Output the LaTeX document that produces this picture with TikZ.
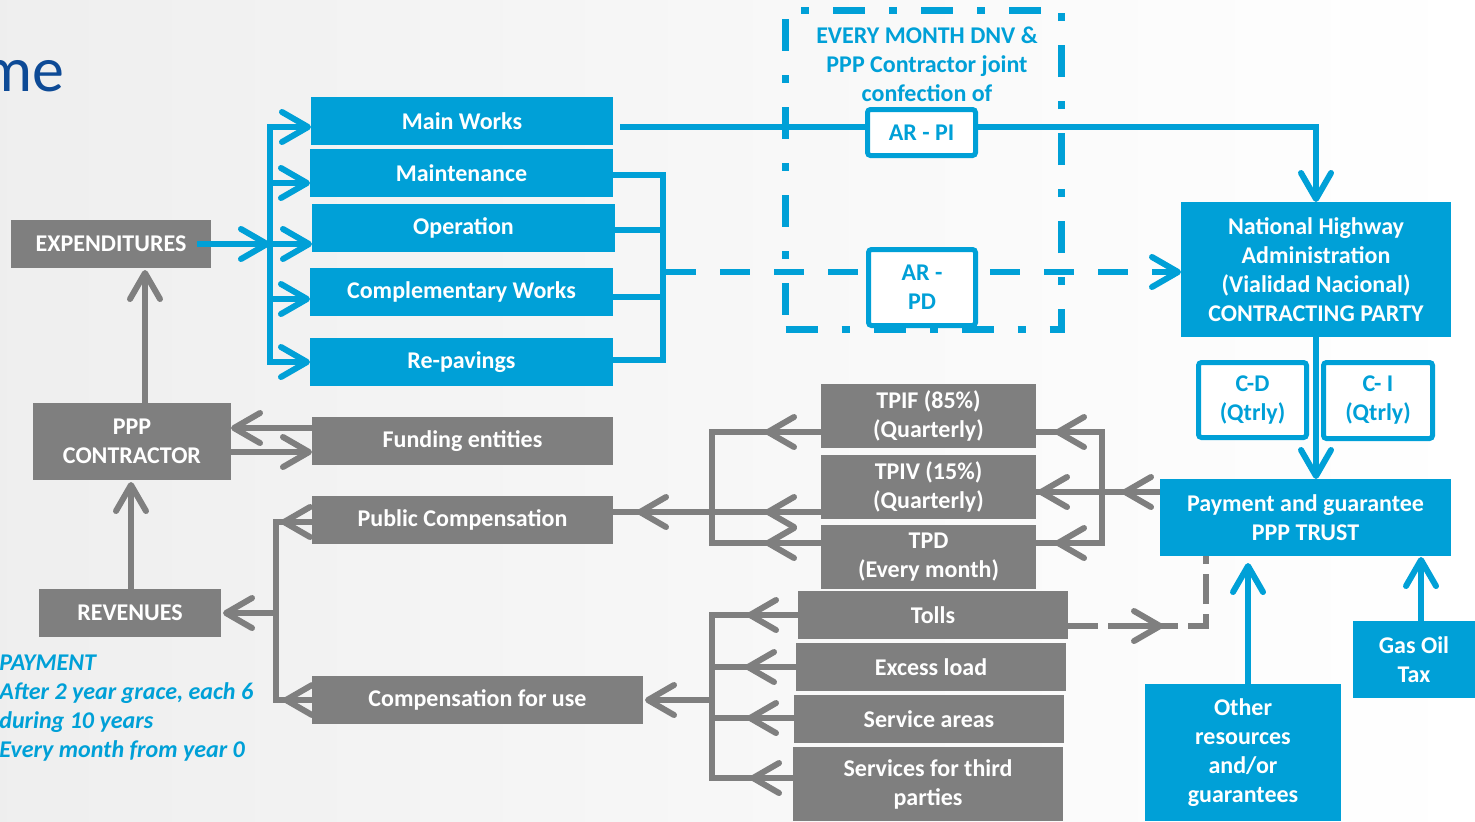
\documentclass[tikz,border=0pt]{standalone}
\usepackage{fontspec}
\setmainfont{Carlito}
\usetikzlibrary{arrows.meta,calc}
\definecolor{cblue}{HTML}{00A0D7}
\definecolor{cgray}{HTML}{7F7F7F}
\definecolor{ctitle}{HTML}{0D4A96}
\begin{document}
\begin{tikzpicture}[x=0.5pt,y=-0.5pt,
  >={Straight Barb[length=13pt,width=15pt,round]},
  cellbox/.style={inner sep=0pt, outer sep=0pt, align=center, font=\fontsize{12}{14.5}\selectfont\bfseries},
  bbox/.style={cellbox, fill=cblue, text=white},
  gbox/.style={cellbox, fill=cgray, text=white},
  obox/.style={cellbox, draw=cblue, line width=2.5pt, fill=white, text=cblue, rounded corners=1.5pt},
  bline/.style={draw=cblue, line width=3pt},
  gline/.style={draw=cgray, line width=3pt},
  sz/.style 2 args={minimum width=#1pt, minimum height=#2pt}
]
\useasboundingbox (0,0) rectangle (1475,821);
\fill[left color=gray!13, right color=white, middle color=gray!6] (0,0) rectangle (1475,821);

% title fragment
\node[anchor=base east, inner sep=0pt, text=ctitle, font=\fontsize{32}{38}\selectfont] (title) at (65,91) {me};

% blue boxes
\node[bbox, sz={151}{24}] (main) at (462,121) {Main Works};
\node[bbox, sz={151.5}{24}] (maint) at (461.5,173) {Maintenance};
\node[bbox, sz={151.5}{24}] (oper) at (463.5,228) {Operation};
\node[bbox, sz={151.5}{24}] (compl) at (461.5,292) {Complementary Works};
\node[bbox, sz={151.5}{24}] (repav) at (461.5,362) {Re-pavings};
\node[bbox, sz={135}{67.5}] (nh) at (1316,269.5) {National Highway\\Administration\\(Vialidad Nacional)\\CONTRACTING PARTY};
\node[bbox, sz={145.5}{38.5}] (trust) at (1305.5,517.5) {Payment and guarantee\\PPP TRUST};
\node[bbox, sz={61}{38.5}] (gas) at (1414,659.5) {Gas Oil\\Tax};
\node[bbox, sz={98}{68.5}] (other) at (1243,752.5) {Other\\resources\\and/or\\guarantees};
\node[obox, sz={54}{37.5}] (cd) at (1252.5,400) {C-D\\(Qtrly)};
\node[obox, sz={54.5}{38}] (ci) at (1378,400.5) {C- I\\(Qtrly)};

% gray boxes
\node[gbox, sz={100}{24}] (exp) at (111,244) {EXPENDITURES};
\node[gbox, sz={99}{38.5}] (ppp) at (132,441.5) {PPP\\CONTRACTOR};
\node[gbox, sz={150.5}{24}] (fund) at (462.5,441) {Funding entities};
\node[gbox, sz={150.5}{24}] (pubc) at (462.5,520) {Public Compensation};
\node[gbox, sz={91}{24}] (rev) at (130,613) {REVENUES};
\node[gbox, sz={165.5}{24}] (cfu) at (477.5,700) {Compensation for use};
\node[gbox, sz={107.5}{32}] (tpif) at (928.5,416) {TPIF (85\%)\\(Quarterly)};
\node[gbox, sz={107.5}{32}] (tpiv) at (928.5,487) {TPIV (15\%)\\(Quarterly)};
\node[gbox, sz={107.5}{32}] (tpd) at (928.5,557) {TPD\\(Every month)};
\node[gbox, sz={135}{24}] (tolls) at (933,615) {Tolls};
\node[gbox, sz={135}{24}] (excess) at (931,667) {Excess load};
\node[gbox, sz={135}{24}] (serv) at (929,719) {Service areas};
\node[gbox, sz={135}{37}] (third) at (928,784) {Services for third\\parties};

% payment note
\node[anchor=west, inner sep=0pt, align=left, text=cblue, font=\fontsize{12}{14.5}\selectfont\bfseries\itshape] (note) at (-1,708) {PAYMENT\\After 2 year grace, each 6\\during 10 years\\Every month from year 0};

% ---------- blue connectors
\coordinate (bt) at (270,127);
\coordinate (bb) at (270,362);
\draw[bline,<->] (main.west |- bt) -- (bt) -- (bb) -- (repav.west |- bb);
\draw[bline,->] ($(exp.east)+(-14,0)$) -- (bt |- exp.east);
\draw[bline,->] (bt |- 0,183) -- (maint.west |- 0,183);
\draw[bline,->] (bt |- 0,244) -- (oper.west |- 0,244);
\draw[bline,->] (bt |- 0,299) -- (compl.west |- 0,299);

\coordinate (rt) at (663,175);
\coordinate (rb) at (663,360);
\draw[bline] (maint.east |- rt) -- (rt) -- (rb) -- (repav.east |- rb);
\draw[bline] (oper.east |- 0,230) -- (rt |- 0,230);
\draw[bline] (compl.east |- 0,297) -- (rt |- 0,297);
\draw[bline, dash pattern=on 15pt off 12pt, ->] ($(rt |- 0,272)+(3,0)$) -- (nh.west |- 0,272);

\draw[bline,->] ($(main.east |- 0,127)+(7,0)$) -- (nh.north |- 0,127) -- (nh.north);
\draw[bline,->] (nh.south) -- (nh.south |- trust.north);
\draw[bline,->] ($(other.north)+(5,0)$) -- ($(trust.south -| other.north)+(5,7)$);
\draw[bline,->] ($(gas.north)+(7,0)$) -- ($(trust.south -| gas.north)+(7,1)$);

% ---------- gray connectors
\draw[gline,->] (ppp.north -| 145,0) -- ($(exp.south -| 145,0)+(0,2)$);
\draw[gline,->] (rev.north -| 131,0) -- ($(ppp.south -| 131,0)+(0,2)$);
\draw[gline,->] (fund.west |- 0,428) -- (ppp.east |- 0,428);
\draw[gline,->] (ppp.east |- 0,452) -- (fund.west |- 0,452);

\coordinate (rvt) at (276,522);
\coordinate (rvb) at (276,700);
\draw[gline] (pubc.west |- rvt) -- (rvt) -- (rvb) -- (cfu.west |- rvb);
\draw[gline,->] (pubc.west |- rvt) -- ++(-31,0);
\draw[gline,->] (cfu.west |- rvb) -- ++(-29,0);
\draw[gline,->] (rvt |- rev.east) -- ($(rev.east)+(2,0)$);

\coordinate (lt) at (712,432);
\coordinate (lb) at (712,543);
\draw[gline] (tpif.west |- lt) -- (lt) -- (lb) -- (tpd.west |- lb);
\draw[gline] (tpiv.west |- 0,512) -- (pubc.east |- 0,512);
\draw[gline,->] (tpif.west |- lt) -- ++(-56,0);
\draw[gline,->] (tpiv.west |- 0,512) -- ++(-56,0);
\draw[gline,->] (tpd.west |- lb) -- ++(-56,0);
\draw[gline,->] (lt |- 0,512) -- ($(pubc.east |- 0,512)+(24,0)$);

\coordinate (rt2) at (1102,432);
\coordinate (rb2) at (1102,543);
\draw[gline] (tpif.east |- rt2) -- (rt2) -- (rb2) -- (tpd.east |- rb2);
\draw[gline] (trust.west |- 0,492) -- (tpiv.east |- 0,492);
\draw[gline,->] (rt2) -- ($(tpif.east |- rt2)+(19,0)$);
\draw[gline,->] (rb2) -- ($(tpd.east |- rb2)+(19,0)$);
\draw[gline,->] (trust.west |- 0,492) -- ++(-38,0);
\draw[gline,->] (rt2 |- 0,492) -- ($(tpiv.east |- 0,492)+(2,0)$);

\coordinate (tt) at (712,615);
\coordinate (tb) at (712,778);
\draw[gline] (tolls.west |- tt) -- (tt) -- (tb) -- (third.west |- tb);
\draw[gline] (excess.west |- 0,667) -- (tt |- 0,667);
\draw[gline] (serv.west |- 0,718) -- (tt |- 0,718);
\draw[gline,->] (tt |- cfu.east) -- ($(cfu.east)+(2,0)$);
\draw[gline,->] (tolls.west |- tt) -- ++(-51,0);
\draw[gline,->] (excess.west |- 0,667) -- ++(-51,0);
\draw[gline,->] (serv.west |- 0,718) -- ++(-47,0);
\draw[gline,->] (third.west |- tb) -- ++(-43,0);

\coordinate (dc) at (1206,626);
\draw[gline, dash pattern=on 15pt off 5pt] (tolls.east |- dc) -- (dc) -- (trust.south -| dc);
\draw[gline,->] ($(tolls.east |- dc)+(67,0)$) -- ++(28,0);

% ---------- AR boxes and joint frame
\node[obox, sz={54}{23}] (arpi) at (921.5,132.5) {AR - PI};
\node[obox, sz={53.5}{38}] (arpd) at (922,287.5) {AR -\\PD};
\node[cellbox, text=cblue] (joint) at (927,64) {EVERY MONTH DNV \&\\PPP Contractor joint\\confection of};
\node[draw=cblue, line width=3.5pt, dash pattern=on 16pt off 12pt on 4pt off 12pt, sz={138}{159.5}, inner sep=0pt] (frame) at (923.5,169.5) {};
\end{tikzpicture}
\end{document}
